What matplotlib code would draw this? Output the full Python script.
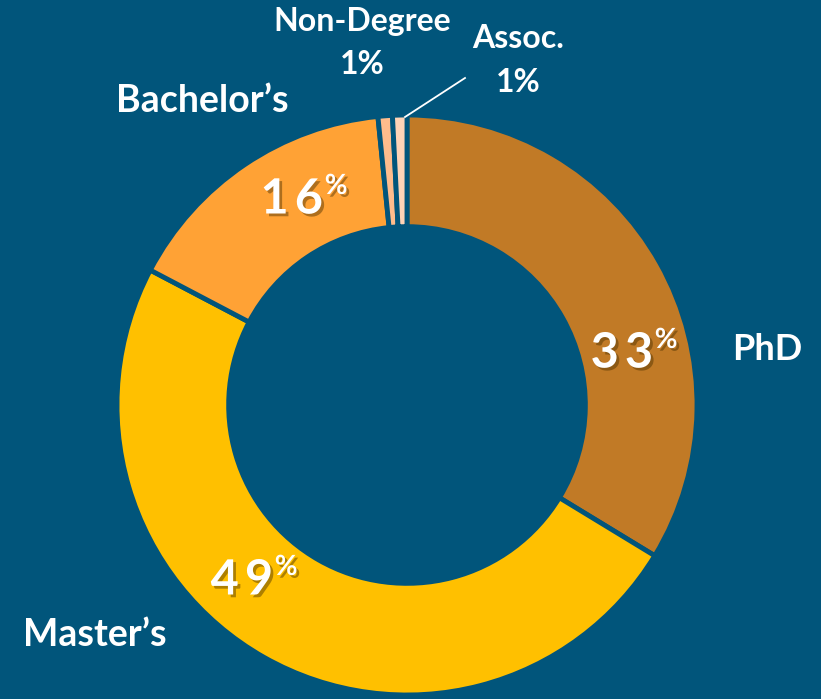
import matplotlib
matplotlib.use('Agg')
import matplotlib.pyplot as plt
import matplotlib.patheffects as pe

# degree share
degrees = ['PhD', "Master\u2019s", "Bachelor\u2019s", 'Non-Degree', 'Assoc.']
shares = [33.7, 49.0, 15.7, 0.8, 0.8]
pct_labels = ['33', '49', '16', '1%', '1%']
colors = ['#C17A26', '#FFC000', '#FFA235', '#FFBC8C', '#FFD3B6']
bg = '#01557B'

plt.rcParams['font.family'] = ['Lato', 'DejaVu Sans']

W, H = 821, 699
cx, cy, R = 407, 405, 290
fig = plt.figure(figsize=(W / 100, H / 100), dpi=100, facecolor=bg)
ax = fig.add_axes([(cx - R) / W, (H - cy - R) / H, 2 * R / W, 2 * R / H])
ax.set_facecolor(bg)

ax.pie(shares, colors=colors, startangle=90, counterclock=False, radius=1,
       wedgeprops=dict(width=0.385, edgecolor=bg, linewidth=3.5))
ax.set_xlim(-1, 1)
ax.set_ylim(-1, 1)
ax.set_aspect('equal')
ax.axis('off')


def px(x, y):
    # pixel position in the picture -> data coords of the ring axes
    return (x - cx) / R, (cy - y) / R


shadow = [pe.SimplePatchShadow(offset=(2, -2), shadow_rgbFace='#4a3000', alpha=0.45), pe.Normal()]

# big percentages inside the ring, with the small raised "%"
inner = [(653, 353), (273, 580), (323, 199)]
for (x, y), lab in zip(inner, pct_labels[:3]):
    dx, dy = px(x, y)
    ax.text(dx, dy, '\u2009'.join(lab), color='white', fontsize=35, fontweight='bold',
            ha='right', va='center', path_effects=shadow, clip_on=False)
    ax.text(dx + 0.006, dy + 0.045, '%', color='white', fontsize=20, fontweight='bold',
            ha='left', va='center', path_effects=shadow, clip_on=False)

# category names
names = [(767, 350, 26), (95, 635, 27), (202, 101, 27)]
for (x, y, fs), name in zip(names, degrees[:3]):
    dx, dy = px(x, y)
    ax.text(dx, dy, name, color='white', fontsize=fs, fontweight='bold', ha='center', va='center',
            clip_on=False)

# the two thin slices
small = [(362, 22, 362, 64), (518, 39, 518, 82)]
for (x1, y1, x2, y2), name, lab in zip(small, degrees[3:], pct_labels[3:]):
    ax.text(*px(x1, y1), name, color='white', fontsize=23, fontweight='bold', ha='center', va='center',
            clip_on=False)
    ax.text(*px(x2, y2), lab, color='white', fontsize=23, fontweight='bold', ha='center', va='center',
            clip_on=False)

# leader line for Assoc.
lx, ly = zip(px(465, 78), px(405, 117))
ax.plot(lx, ly, color='white', lw=1.3, clip_on=False)

fig.savefig('out.png', dpi=100, facecolor=bg)
